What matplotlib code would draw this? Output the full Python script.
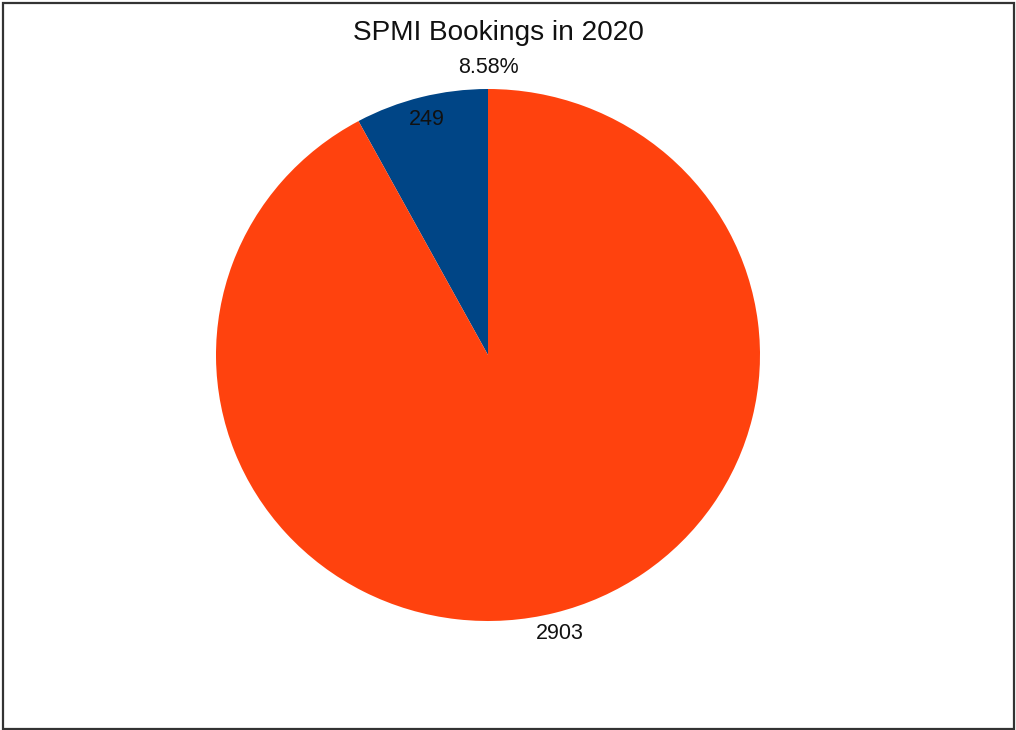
import numpy as np
import matplotlib
matplotlib.use("Agg")
import matplotlib.pyplot as plt
from matplotlib.patches import Rectangle

# data
categories = ["Other", "Rest"]
bookings = [249, 2903]
slice_colors = ["#004586", "#ff420e"]
pct_label = "8.58%"
title = "SPMI Bookings in 2020"

plt.rcParams["font.family"] = ["Liberation Sans", "DejaVu Sans"]

fig = plt.figure(figsize=(10.16, 7.30), dpi=100)
fig.patch.set_facecolor("white")

# outer frame
fig.patches.append(Rectangle((3 / 1016, 1.5 / 730), 1011 / 1016, 725.5 / 730,
                             transform=fig.transFigure, fill=False,
                             edgecolor="#333333", linewidth=1.6))

# pie axes, slightly wider than tall like the original
ax = fig.add_axes([216 / 1016, 109 / 730, 544 / 1016, 532 / 730])
wedges, _ = ax.pie(bookings, colors=slice_colors, startangle=90,
                   counterclock=True, radius=1.0,
                   wedgeprops=dict(linewidth=0))
ax.set_aspect("auto")
ax.set_xlim(-1, 1)
ax.set_ylim(-1, 1)
ax.axis("off")

# value labels at wedge mid-angles
label_r = [0.915, 1.08]
for w, val, r in zip(wedges, bookings, label_r):
    mid = np.deg2rad((w.theta1 + w.theta2) / 2)
    ax.text(r * np.cos(mid), r * np.sin(mid), str(val), ha="center",
            va="center", fontsize=15.5, color="#111111", clip_on=False)

ax.text(0, 1.08, pct_label, ha="center", va="center", fontsize=15.5,
        color="#111111", clip_on=False)

fig.text(498 / 1016, 1 - 33 / 730, title, ha="center", va="center",
         fontsize=20.2, color="#111111")

fig.savefig("out.png", dpi=100, facecolor="white")
